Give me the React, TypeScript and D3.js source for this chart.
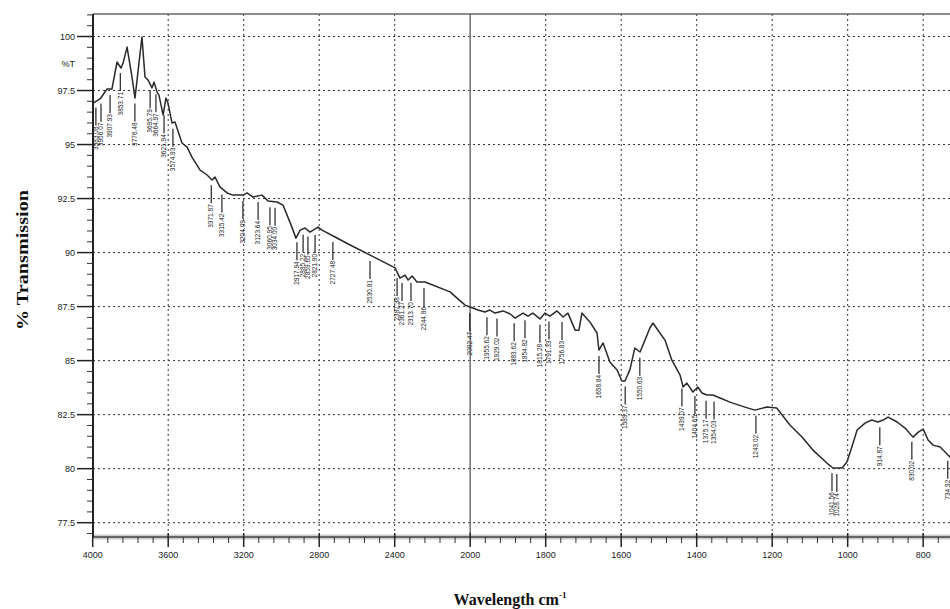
import React from "react";
import * as d3 from "d3";

// Spectrum: wavenumber (cm-1) vs %T
const wavenumbers = [
  3998, 3961, 3924, 3898, 3871, 3850, 3839, 3818, 3792, 3776, 3739, 3723, 3707, 3686, 3675, 3659, 3649, 3627, 3612, 3601,
  3580, 3564, 3527, 3500, 3474, 3431, 3394, 3368, 3352, 3326, 3288, 3257, 3203, 3182, 3151, 3103, 3071, 3023, 2992, 2955,
  2923, 2901, 2875, 2849, 2806, 2785, 2716, 2636, 2530, 2398, 2372, 2345, 2329, 2308, 2282, 2239, 2107, 2027, 2001, 1979,
  1961, 1948, 1934, 1913, 1894, 1881, 1860, 1847, 1834, 1815, 1802, 1789, 1770, 1754, 1741, 1722, 1712, 1704, 1683, 1664,
  1659, 1648, 1630, 1611, 1598, 1590, 1577, 1564, 1550, 1537, 1524, 1516, 1503, 1484, 1466, 1444, 1436, 1426, 1410, 1397,
  1386, 1373, 1357, 1338, 1312, 1272, 1246, 1214, 1188, 1153, 1121, 1092, 1055, 1039, 1015, 1002, 989, 975, 954, 936,
  920, 906, 893, 869, 848, 827, 813, 800, 787, 774, 755, 729, 708,
];
const transmittance = [
  96.92, 97.11, 97.57, 97.57, 98.82, 98.54, 98.77, 99.51, 98.13, 97.15, 99.98, 98.13, 97.99, 97.62, 97.89, 97.43, 97.29, 96.37, 97.15, 96.92,
  96.0, 96.04, 95.07, 94.88, 94.42, 93.82, 93.59, 93.36, 93.5, 93.04, 92.76, 92.66, 92.66, 92.76, 92.57, 92.66, 92.39, 92.34, 92.2, 91.41,
  90.67, 91.04, 91.14, 90.95, 91.18, 91.04, 90.72, 90.35, 89.88, 89.29, 88.82, 88.96, 88.73, 88.92, 88.64, 88.64, 88.18, 87.57, 87.48, 87.34,
  87.25, 87.34, 87.2, 87.3, 87.16, 86.97, 87.2, 87.06, 87.2, 86.93, 87.2, 87.06, 87.3, 87.02, 87.2, 86.41, 86.41, 87.2, 86.79, 86.28,
  85.49, 85.82, 84.94, 84.57, 84.06, 84.06, 84.57, 85.58, 85.4, 85.95, 86.51, 86.74, 86.42, 85.95, 85.03, 84.33, 83.78, 83.96, 83.55, 83.78,
  83.5, 83.41, 83.41, 83.27, 83.08, 82.85, 82.71, 82.85, 82.81, 82.02, 81.47, 80.86, 80.26, 80.03, 80.03, 80.31, 81.0, 81.79, 82.11, 82.25,
  82.16, 82.25, 82.39, 82.16, 81.88, 81.46, 81.69, 81.83, 81.33, 81.09, 81.0, 80.54, 80.31,
];

// Peak annotations (cm-1)
const peakWavenumbers = [
  3983.08, 3956.07, 3907.93, 3853.71, 3776.48, 3695.79, 3664.97, 3621.94, 3574.93,
  3371.87, 3315.42, 3204.09, 3123.64, 3060.95, 3034.0, 2917.94, 2885.22, 2859.65, 2821.9,
  2727.48, 2530.81, 2387.38, 2361.27, 2313.7, 2244.86, 2002.47,
  1955.62, 1929.02, 1883.62, 1854.82, 1815.28, 1791.33, 1756.83, 1658.84, 1589.37, 1550.63,
  1439.07, 1404.65, 1375.17, 1354.03, 1243.02, 1041.56, 1028.74, 914.87, 830.02, 734.92,
];

const xMajorTicks = [4000, 3600, 3200, 2800, 2400, 2000, 1800, 1600, 1400, 1200, 1000, 800];
const yMajorTicks = [77.5, 80, 82.5, 85, 87.5, 90, 92.5, 95, 97.5, 100];

const W = 950;
const H = 609;
const TOP = 14;
const BOTTOM = 537;
const LEFT = 93;

export default function App() {
  const x = d3.scaleLinear().domain([4000, 2000, 650]).range([92.7, 470.2, 979.8]);
  const y = d3.scaleLinear().domain([77.5, 100]).range([522.7, 36.5]);

  const pts = wavenumbers.map((w, i) => [w, transmittance[i]] as [number, number]);
  const line = d3
    .line<[number, number]>()
    .x((d) => x(d[0]))
    .y((d) => y(d[1]))
    .curve(d3.curveLinear);

  const interpT = (w: number) => {
    for (let i = 0; i < wavenumbers.length - 1; i++) {
      const a = wavenumbers[i], b = wavenumbers[i + 1];
      if (w <= a && w >= b) {
        const t = (a - w) / (a - b);
        return transmittance[i] + t * (transmittance[i + 1] - transmittance[i]);
      }
    }
    return transmittance[transmittance.length - 1];
  };

  const xMinor: number[] = [];
  for (let v = 4000; v > 2000; v -= 80) if (!xMajorTicks.includes(v)) xMinor.push(v);
  for (let v = 2000; v >= 660; v -= 40) if (!xMajorTicks.includes(v)) xMinor.push(v);

  const yMinor: number[] = [];
  for (let v = 76.5; v <= 101; v += 0.5) if (!yMajorTicks.includes(v)) yMinor.push(v);

  const gridColor = "#333";

  return (
    <svg
      width={W}
      height={H}
      style={{ position: "absolute", left: 0, top: 0, background: "#fff" }}
      fontFamily="Arial, 'Liberation Sans', sans-serif"
    >
      <rect x={0} y={0} width={W} height={H} fill="#fff" />
      {/* horizontal grid */}
      {yMajorTicks.map((t) => (
        <line
          key={"hg" + t}
          x1={LEFT}
          x2={W}
          y1={y(t)}
          y2={y(t)}
          stroke={gridColor}
          strokeWidth={1}
          strokeDasharray="2,3"
        />
      ))}
      {/* vertical grid */}
      {xMajorTicks
        .filter((t) => t !== 4000)
        .map((t) =>
          t === 2000 ? (
            <line key={"vg" + t} x1={x(t)} x2={x(t)} y1={TOP} y2={BOTTOM} stroke="#777" strokeWidth={1.6} />
          ) : (
            <line
              key={"vg" + t}
              x1={x(t)}
              x2={x(t)}
              y1={TOP}
              y2={BOTTOM}
              stroke={gridColor}
              strokeWidth={1}
              strokeDasharray="2,3"
            />
          )
        )}
      {/* top border */}
      <line x1={LEFT} x2={W} y1={TOP} y2={TOP} stroke="#666" strokeWidth={1.5} />
      {/* bottom axis */}
      <rect x={LEFT} y={BOTTOM - 2.5} width={W - LEFT} height={5} fill="#ccc" />
      <line x1={LEFT} x2={W} y1={BOTTOM} y2={BOTTOM} stroke="#444" strokeWidth={1.6} />
      {xMinor.map((t) => (
        <line key={"xm" + t} x1={x(t)} x2={x(t)} y1={BOTTOM} y2={BOTTOM + 6} stroke="#333" strokeWidth={1} />
      ))}
      {xMajorTicks.map((t) => (
        <g key={"xt" + t}>
          <line x1={x(t)} x2={x(t)} y1={BOTTOM - 4} y2={BOTTOM + 10} stroke="#222" strokeWidth={1.5} />
          <text x={x(t)} y={558} fontSize={9} textAnchor="middle" fill="#222">
            {t}
          </text>
        </g>
      ))}
      {/* left axis */}
      <line x1={LEFT} x2={LEFT} y1={TOP} y2={BOTTOM} stroke="#222" strokeWidth={2} />
      {yMinor
        .filter((t) => y(t) >= TOP && y(t) <= BOTTOM)
        .map((t) => (
          <line key={"ym" + t} x1={LEFT - 6} x2={LEFT} y1={y(t)} y2={y(t)} stroke="#333" strokeWidth={1} />
        ))}
      {yMajorTicks.map((t) => (
        <g key={"yt" + t}>
          <line x1={LEFT - 16} x2={LEFT} y1={y(t)} y2={y(t)} stroke="#222" strokeWidth={1.5} />
          <text x={75} y={y(t)} dy="0.35em" fontSize={9} textAnchor="end" fill="#222">
            {t}
          </text>
        </g>
      ))}
      <text x={75} y={y(98.75)} dy="0.35em" fontSize={9} textAnchor="end" fill="#222">
        %T
      </text>

      {/* spectrum */}
      <path d={line(pts) || ""} fill="none" stroke="#2a2a2a" strokeWidth={1.5} strokeLinejoin="round" />

      {/* peak labels */}
      {peakWavenumbers.map((p) => {
        const px = x(p);
        const py = y(interpT(p));
        const top = py + 6;
        const bot = top + 18;
        return (
          <g key={"pk" + p}>
            <line x1={px} x2={px} y1={top} y2={bot} stroke="#222" strokeWidth={1.2} />
            <text
              transform={`translate(${px + 2.2},${bot + 1}) rotate(-90)`}
              fontSize={6.5}
              textAnchor="end"
              fill="#222"
            >
              {p.toFixed(2)}
            </text>
          </g>
        );
      })}

      {/* axis titles */}
      <text
        transform="translate(28,260) rotate(-90)"
        textAnchor="middle"
        fontFamily="'Liberation Serif', 'Times New Roman', serif"
        fontWeight="bold"
        fontSize={17}
        textLength={140}
        lengthAdjust="spacingAndGlyphs"
        fill="#111"
      >
        % Transmission
      </text>
      <text
        x={510}
        y={605}
        textAnchor="middle"
        fontFamily="'Liberation Serif', 'Times New Roman', serif"
        fontWeight="bold"
        fontSize={16}
        fill="#111"
      >
        Wavelength cm
        <tspan fontSize={9} dy={-7}>
          -1
        </tspan>
      </text>
    </svg>
  );
}
